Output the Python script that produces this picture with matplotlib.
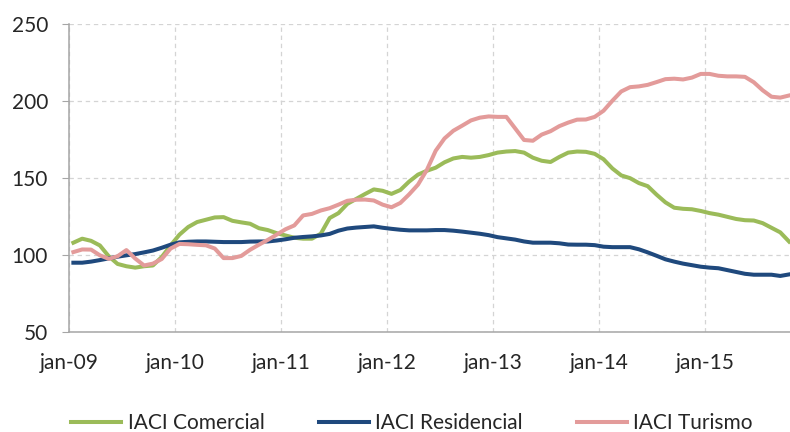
import numpy as np
import pandas as pd
import matplotlib.pyplot as plt

plt.rcParams['font.family'] = ['Lato', 'DejaVu Sans']

# meses: jan-09 a oct-15
meses = pd.date_range("2009-01-01", periods=82, freq="MS")

comercial = [107.8, 110.4, 109, 106, 99, 94, 92.5, 91.6, 92.5, 93, 98.5, 106,
             113, 118, 121.2, 122.7, 124.2, 124.4, 122, 121, 120.1, 117.2, 116, 114,
             112.5, 111, 110.4, 110.4, 113.6, 123.8, 127, 133, 136.2, 139.4, 142.4, 141.5,
             139.5, 142, 147.5, 152, 154.5, 156.5, 160, 162.5, 163.5, 163, 163.5, 164.7,
             166.3, 167, 167.3, 166.3, 163, 161, 160.2, 163.5, 166.3, 167, 166.8, 165.5,
             162, 156, 151.5, 149.7, 146.5, 144.5, 139, 134, 130.5, 129.8, 129.5, 128.4,
             127, 126, 124.6, 123.2, 122.4, 122.2, 120.5, 117.5, 114.5, 108.5]

residencial = [94.8, 94.8, 95.5, 96.5, 97.6, 98.7, 99.6, 100.4, 101.5, 102.7, 104.5, 106.5,
               108, 108.4, 108.6, 108.6, 108.4, 108.2, 108.2, 108.2, 108.5, 108.6, 108.6, 109.2,
               110, 111, 111.5, 111.9, 112.5, 113.5, 115.6, 117, 117.6, 118, 118.4, 117.5,
               116.8, 116.2, 115.8, 115.8, 115.8, 116, 116, 115.6, 115, 114.3, 113.6, 112.7,
               111.4, 110.6, 109.8, 108.6, 107.8, 107.8, 107.8, 107.4, 106.6, 106.5, 106.5, 106.2,
               105.2, 104.9, 104.9, 104.9, 103.5, 101.5, 99.3, 97, 95.5, 94.2, 93.2, 92.2,
               91.6, 91.2, 90, 88.8, 87.6, 87, 87, 87, 86.2, 87.2]

turismo = [101.7, 103.4, 103.3, 99.6, 97.3, 99, 103, 97.5, 93, 94.2, 97.2, 104,
           107, 106.8, 106.4, 106.1, 104, 97.8, 97.8, 99.2, 103.2, 106.5, 109.6, 113,
           116.5, 119, 125.5, 126.5, 128.7, 130.2, 132.5, 135, 135.7, 135.8, 135.2, 132.5,
           130.8, 133.6, 139.2, 145.5, 155, 167.5, 175.5, 180.5, 183.8, 187.2, 189, 189.8,
           189.5, 189.5, 182, 174.5, 174, 178, 180.2, 183.5, 185.8, 187.7, 187.8, 189.5,
           193.5, 200, 206, 208.8, 209.3, 210.3, 212.1, 214, 214.3, 213.8, 215, 217.4,
           217.4, 216.2, 215.8, 215.8, 215.5, 212, 206.8, 202.6, 202, 203.4]

etiquetas = ["jan-09", "jan-10", "jan-11", "jan-12", "jan-13", "jan-14", "jan-15"]

x = np.arange(len(meses)) + 0.5

fig = plt.figure(figsize=(7.9, 4.32), dpi=100)
ax = fig.add_axes([0.0873, 0.2322, 0.9127, 0.7129])

ax.plot(x, comercial, color="#9BBB59", lw=2.9, label="IACI Comercial", solid_joinstyle="round")
ax.plot(x, residencial, color="#1F497D", lw=2.9, label="IACI Residencial", solid_joinstyle="round")
ax.plot(x, turismo, color="#E39B9A", lw=2.9, label="IACI Turismo", solid_joinstyle="round")

ax.set_xlim(0, 81.6)
ax.set_ylim(50, 250)
ax.set_yticks([50, 100, 150, 200, 250])
ax.set_xticks(np.arange(0, 84, 12))
ax.set_xticklabels(etiquetas)

ax.grid(True, color="#D4D4D4", linestyle=(0, (3.5, 3)), lw=0.9)
ax.set_axisbelow(True)

for s in ["top", "right"]:
    ax.spines[s].set_visible(False)
ax.spines["left"].set_color("#A6A6A6")
ax.spines["bottom"].set_color("#A6A6A6")
ax.spines["left"].set_linewidth(1.1)
ax.spines["bottom"].set_linewidth(1.1)

ax.tick_params(axis="y", length=5, color="#A6A6A6", pad=10, labelsize=15, labelcolor="#262626")
ax.tick_params(axis="x", length=0, pad=15, labelsize=15, labelcolor="#262626")

fig.legend(loc="center", bbox_to_anchor=(412 / 790, 1 - 423 / 432), ncol=3, frameon=False,
           fontsize=15, handlelength=2.4, handletextpad=0.3, columnspacing=2.6,
           labelcolor="#262626")

plt.savefig("out.png", dpi=100)
